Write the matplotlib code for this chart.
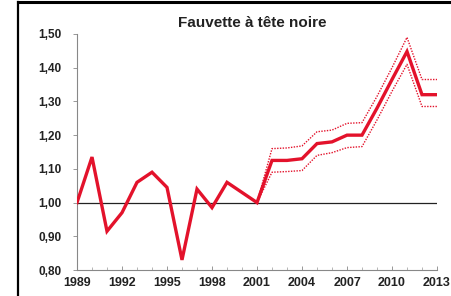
import matplotlib
matplotlib.use("Agg")
import matplotlib.pyplot as plt
from matplotlib.lines import Line2D

years = list(range(1989, 2014))
index = [1.00, 1.135, 0.915, 0.97, 1.06, 1.09, 1.045, 0.83, 1.04, 0.985, 1.06, 1.03, 1.00,
         1.125, 1.125, 1.13, 1.175, 1.18, 1.20, 1.20, 1.28, 1.365, 1.448, 1.32, 1.32]
ci_years = list(range(2001, 2014))
upper = [1.00, 1.16, 1.162, 1.168, 1.21, 1.215, 1.235, 1.237, 1.315, 1.40, 1.49, 1.365, 1.365]
lower = [1.00, 1.09, 1.092, 1.095, 1.14, 1.148, 1.163, 1.166, 1.245, 1.33, 1.41, 1.285, 1.285]
xticks = [1989, 1992, 1995, 1998, 2001, 2004, 2007, 2010, 2013]
yticks = [0.80, 0.90, 1.00, 1.10, 1.20, 1.30, 1.40, 1.50]
title = "Fauvette à tête noire"

plt.rcParams['font.family'] = ['Liberation Sans', 'DejaVu Sans']
fig = plt.figure(figsize=(4.51, 2.96), dpi=100)
ax = fig.add_axes([77/451, 1-270/296, 360/451, 236/296])

red = '#e3122b'
ax.axhline(1.0, color='#222222', lw=0.9, zorder=1)
ax.plot(ci_years, upper, color=red, lw=1.0, ls=(0, (1, 1)), zorder=2)
ax.plot(ci_years, lower, color=red, lw=1.0, ls=(0, (1, 1)), zorder=2)
ax.plot(years, index, color=red, lw=2.4, zorder=3, solid_joinstyle='miter')

ax.set_xlim(1989, 2013)
ax.set_ylim(0.80, 1.50)
ax.set_xticks(xticks)
ax.set_xticks(years, minor=True)
ax.set_xticklabels([str(x) for x in xticks], fontsize=9, fontweight='bold', color='#222222')
ax.set_yticks(yticks)
ax.set_yticklabels([f"{v:.2f}".replace('.', ',') for v in yticks], fontsize=8.5,
                   fontweight='bold', color='#222222')
ax.tick_params(axis='y', direction='out', length=3, width=0.6, color='#888888', pad=8)
ax.tick_params(axis='x', which='major', direction='in', length=3, width=0.6, color='#888888', pad=5)
ax.tick_params(axis='x', which='minor', direction='in', length=2, width=0.5, color='#999999')
for s in ['top', 'right']:
    ax.spines[s].set_visible(False)
for s in ['left', 'bottom']:
    ax.spines[s].set_color('#888888')
    ax.spines[s].set_linewidth(0.8)

fig.text(252/451, 1-23/296, title, ha='center', va='center', fontsize=11,
         fontweight='bold', color='#222222')

# outer frame lines (cropped figure border)
fig.add_artist(Line2D([18/451, 18/451], [0, 1-1.5/296], transform=fig.transFigure,
                      color='black', lw=1.6))
fig.add_artist(Line2D([18/451, 1], [1-1.5/296, 1-1.5/296], transform=fig.transFigure,
                      color='black', lw=2.2))

fig.savefig("out.png", dpi=100)
